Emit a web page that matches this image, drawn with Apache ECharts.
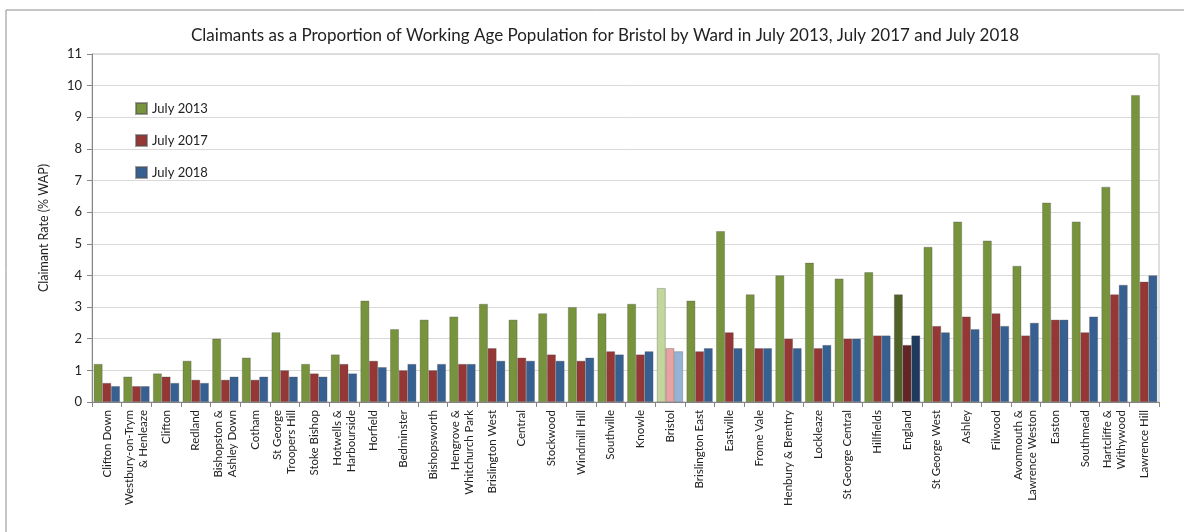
<!DOCTYPE html>
<html>
<head>
<meta charset="utf-8">
<script src="https://cdn.jsdelivr.net/npm/echarts@6/dist/echarts.min.js"></script>
<style>html,body{margin:0;padding:0;background:#fff;}#c{width:1184px;height:532px;}</style>
</head>
<body>
<div id="c"></div>
<script>
const categories = ["Clifton Down","Westbury-on-Trym\n& Henleaze","Clifton","Redland","Bishopston &\nAshley Down","Cotham","St George\nTroopers Hill","Stoke Bishop","Hotwells &\nHarbourside","Horfield","Bedminster","Bishopsworth","Hengrove &\nWhitchurch Park","Brislington West","Central","Stockwood","Windmill Hill","Southville","Knowle","Bristol","Brislington East","Eastville","Frome Vale","Henbury & Brentry","Lockleaze","St George Central","Hillfields","England","St George West","Ashley","Filwood","Avonmouth &\nLawrence Weston","Easton","Southmead","Hartcliffe &\nWithywood","Lawrence Hill"];
const july2013 = [1.2,0.8,0.9,1.3,2.0,1.4,2.2,1.2,1.5,3.2,2.3,2.6,2.7,3.1,2.6,2.8,3.0,2.8,3.1,3.6,3.2,5.4,3.4,4.0,4.4,3.9,4.1,3.4,4.9,5.7,5.1,4.3,6.3,5.7,6.8,9.7];
const july2017 = [0.6,0.5,0.8,0.7,0.7,0.7,1.0,0.9,1.2,1.3,1.0,1.0,1.2,1.7,1.4,1.5,1.3,1.6,1.5,1.7,1.6,2.2,1.7,2.0,1.7,2.0,2.1,1.8,2.4,2.7,2.8,2.1,2.6,2.2,3.4,3.8];
const july2018 = [0.5,0.5,0.6,0.6,0.8,0.8,0.8,0.8,0.9,1.1,1.2,1.2,1.2,1.3,1.3,1.3,1.4,1.5,1.6,1.6,1.7,1.7,1.7,1.7,1.8,2.0,2.1,2.1,2.2,2.3,2.4,2.5,2.6,2.7,3.7,4.0];
const seriesNames = ["July 2013","July 2017","July 2018"];
const yTicks = [0,1,2,3,4,5,6,7,8,9,10,11];

const baseColors = ["#77933C","#953735","#376092"];
const bristolColors = ["#C3D69B","#E6A3A2","#95B3D7"];
const englandColors = ["#4F6228","#632523","#1F3A5F"];
const FONT = "Lato, 'Open Sans', sans-serif";

function build(vals, idx) {
  return vals.map((v, i) => {
    const cat = categories[i];
    if (cat === "Bristol") return {value: v, itemStyle: {color: bristolColors[idx]}};
    if (cat === "England") return {value: v, itemStyle: {color: englandColors[idx]}};
    return v;
  });
}
const allVals = [july2013, july2017, july2018];

const chart = echarts.init(document.getElementById('c'), null, {renderer: 'canvas'});
chart.setOption({
  animation: false,
  backgroundColor: '#fff',
  graphic: [{
    type: 'rect', shape: {x: 6, y: 10, width: 1250, height: 600},
    style: {fill: 'none', stroke: '#8c8c8c', lineWidth: 1}, z: -1
  }],
  title: {
    text: 'Claimants as a Proportion of Working Age Population for Bristol by Ward in July 2013, July 2017 and July 2018',
    left: 600, top: 22, textAlign: 'center',
    textStyle: {fontFamily: FONT, fontSize: 17, fontWeight: 'normal', color: '#222'}
  },
  legend: {
    orient: 'vertical', left: 130, top: 97, itemGap: 19,
    itemWidth: 11, itemHeight: 11, icon: 'rect',
    textStyle: {fontFamily: FONT, fontSize: 13, color: '#222'},
    data: seriesNames
  },
  grid: {left: 92, right: 25, top: 54, bottom: 130, show: true, borderColor: '#bfbfbf', borderWidth: 1},
  xAxis: {
    type: 'category', data: categories,
    axisLine: {lineStyle: {color: '#868686'}},
    axisTick: {show: true, alignWithLabel: false, length: 5, lineStyle: {color: '#868686'}},
    axisLabel: {rotate: 90, interval: 0, fontFamily: FONT, fontSize: 11.5, color: '#222', lineHeight: 14, margin: 8}
  },
  yAxis: {
    type: 'value', min: 0, max: 11, interval: 1,
    name: 'Claimant Rate (% WAP)', nameLocation: 'middle', nameGap: 42,
    nameTextStyle: {fontFamily: FONT, fontSize: 12.5, color: '#222'},
    axisLine: {show: true, lineStyle: {color: '#868686'}},
    axisTick: {show: true, length: 5, lineStyle: {color: '#868686'}},
    axisLabel: {fontFamily: FONT, fontSize: 13, color: '#222', margin: 10,
      formatter: v => yTicks.indexOf(v) >= 0 ? String(v) : ''},
    splitLine: {lineStyle: {color: '#d9d9d9'}}
  },
  series: seriesNames.map((n, idx) => ({
    name: n, type: 'bar', data: build(allVals[idx], idx),
    barGap: '0%', barCategoryGap: '12%',
    itemStyle: {color: baseColors[idx], borderColor: 'rgba(80,80,80,0.55)', borderWidth: 0.6}
  }))
});
</script>
</body>
</html>
